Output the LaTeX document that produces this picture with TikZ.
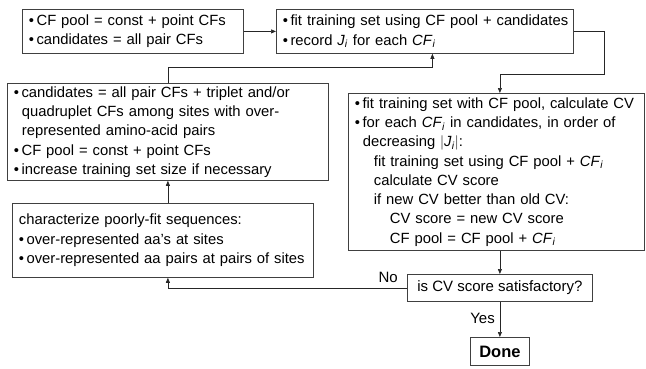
\documentclass[tikz,border=0pt]{standalone}
\usepackage{fontspec}
\setmainfont{Liberation Sans}
\usetikzlibrary{arrows.meta}
\newcommand\myJi{\textit{J}\textsubscript{\textit{i}}}
\newcommand\myCFi{\textit{CF}\textsubscript{\textit{i}}}
\newcommand\mybul{\textbullet\hspace{2.5pt}}
\newcommand\myl[2][0pt]{\hspace*{#1}\makebox[0pt][l]{#2}}
\tikzset{
  box/.style={draw=black!75, line width=0.8pt, anchor=north west, inner xsep=6.5pt, inner ysep=0pt,
    align=left, font=\fontsize{14.8}{19.3}\selectfont},
  cbox/.style={draw=black!75, line width=0.8pt, anchor=north west, inner sep=0pt,
    align=center, font=\fontsize{15}{19.3}\selectfont},
  arr/.style={draw=black!85, line width=0.7pt, -{Triangle[length=5pt,width=4pt]}},
  lbl/.style={font=\fontsize{15}{18}\selectfont, inner sep=0pt}
}
\begin{document}
\begin{tikzpicture}[x=1pt,y=-1pt]
\useasboundingbox (0,0) rectangle (646,368);
\node[box, minimum width=221, minimum height=44, text width=208] (A) at (22,9)
  {\myl{\mybul CF pool = const + point CFs}\\\myl{\mybul candidates = all pair CFs}};
\node[box, minimum width=297, minimum height=44, text width=284] (B) at (276,9)
  {\myl{\mybul fit training set using CF pool + candidates}\\\myl{\mybul record \myJi{} for each \myCFi}};
\node[box, minimum width=296, minimum height=157, text width=283] (C) at (348,93)
  {\myl{\mybul fit training set with CF pool, calculate CV}\\
   \myl{\mybul for each \myCFi{} in candidates, in order of}\\
   \myl[8pt]{decreasing $|$\myJi$|$:}\\
   \myl[19pt]{fit training set using CF pool + \myCFi}\\
   \myl[19pt]{calculate CV score}\\
   \myl[19pt]{if new CV better than old CV:}\\
   \myl[35pt]{CV score = new CV score}\\
   \myl[35pt]{CF pool = CF pool + \myCFi}};
\node[box, minimum width=321, minimum height=97, text width=308] (D) at (7,83)
  {\myl{\mybul candidates = all pair CFs + triplet and/or}\\
   \myl[8pt]{quadruplet CFs among sites with over-}\\
   \myl[8pt]{represented amino-acid pairs}\\
   \myl{\mybul CF pool = const + point CFs}\\
   \myl{\mybul increase training set size if necessary}};
\node[box, minimum width=301, minimum height=74, text width=288] (E) at (12,203)
  {\myl{characterize poorly-fit sequences:}\\
   \myl{\mybul over-represented aa's at sites}\\
   \myl{\mybul over-represented aa pairs at pairs of sites}};
\node[cbox, minimum width=185, minimum height=27] (Q) at (407,274) {is CV score satisfactory?};
\node[cbox, minimum width=59, minimum height=28, font=\fontsize{16.5}{19}\selectfont\bfseries] (Done) at (470,337) {Done};

\draw[arr] (A.east) -- (B.west);
\draw[arr] (B.east) -- ++(31,0) -- ++(0,43) -| (C.north -| Q.north);
\draw[arr] (D.north) -- ++(0,-16) -| ([xshift=7.5pt]B.south);
\draw[arr] (C.south -| Q.north) -- (Q.north);
\draw[arr] (Q.south) -- (Done.north);
\draw[arr] (Q.west) -| (D.north |- E.south);
\draw[arr] (D.north |- E.north) -- (D.south);
\node[lbl, anchor=base east] (no) at (398,282) {No};
\node[lbl, anchor=base east] (yes) at (495,323) {Yes};
\end{tikzpicture}
\end{document}
